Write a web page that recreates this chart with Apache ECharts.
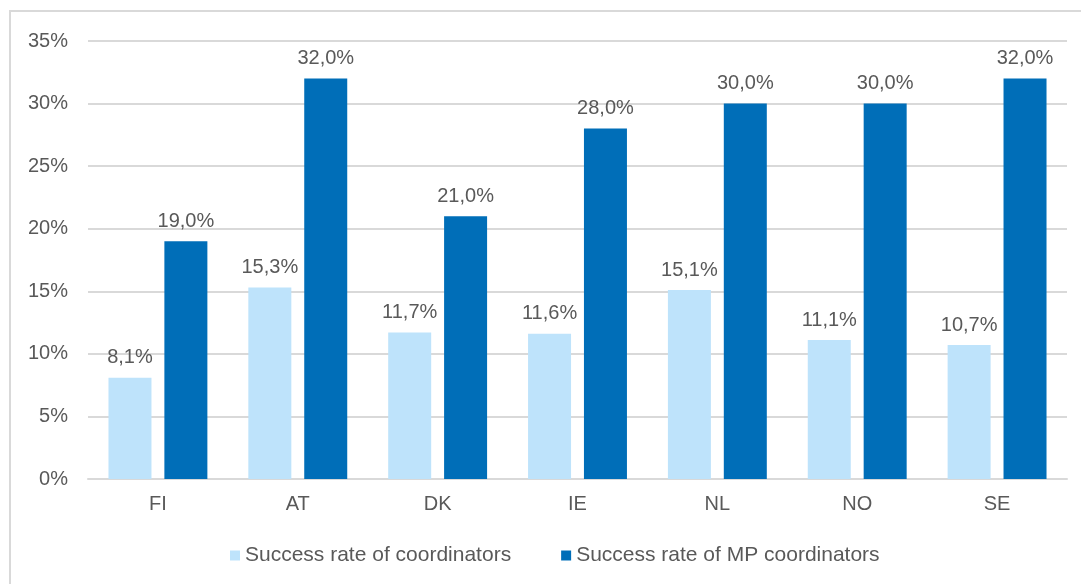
<!DOCTYPE html>
<html>
<head>
<meta charset="utf-8">
<script src="https://cdn.jsdelivr.net/npm/echarts@6/dist/echarts.min.js"></script>
<style>
html,body{margin:0;padding:0;background:#fff;}
#c{width:1081px;height:584px;}
</style>
</head>
<body>
<div id="c"></div>
<script>
const categories = ['FI','AT','DK','IE','NL','NO','SE'];
const coordinators = [8.1,15.3,11.7,11.6,15.1,11.1,10.7];
const mpCoordinators = [19.0,32.0,21.0,28.0,30.0,30.0,32.0];
const seriesNames = ['Success rate of coordinators','Success rate of MP coordinators'];
const yTicks = [0,5,10,15,20,25,30,35];

const font = 'Liberation Sans, Arial, sans-serif';
const txt = '#595959';
const fmt = v => v.toFixed(1).replace('.', ',') + '%';

const chart = echarts.init(document.getElementById('c'));
chart.setOption({
  animation:false,
  textStyle:{fontFamily:font},
  graphic:[{type:'rect',shape:{x:10,y:11,width:1100,height:600},style:{fill:'none',stroke:'#d9d9d9',lineWidth:2},silent:true}],
  grid:{left:88,right:14,top:41,bottom:105},
  legend:{
    data:seriesNames,
    top:540,
    left:225,
    itemWidth:10,itemHeight:10,itemGap:50,
    icon:'rect',
    textStyle:{color:txt,fontSize:21,fontFamily:font}
  },
  xAxis:{
    type:'category',data:categories,
    axisLine:{show:true,lineStyle:{color:'#d9d9d9',width:2}},
    axisTick:{show:false},
    axisLabel:{color:txt,fontSize:20,margin:15,fontFamily:font}
  },
  yAxis:{
    type:'value',min:yTicks[0],max:yTicks[yTicks.length-1],interval:5,
    axisLine:{show:false},axisTick:{show:false},
    splitLine:{lineStyle:{color:'#d9d9d9',width:2}},
    axisLabel:{color:txt,fontSize:20,margin:20,formatter:v=>v+'%',fontFamily:font}
  },
  series:[
    {name:seriesNames[0],type:'bar',data:coordinators,barWidth:43,barGap:'30%',
     itemStyle:{color:'#bee3fb'},
     label:{show:true,position:'top',distance:10,color:txt,fontSize:20,fontFamily:font,formatter:p=>fmt(p.value)}},
    {name:seriesNames[1],type:'bar',data:mpCoordinators,barWidth:43,
     itemStyle:{color:'#006eb8'},
     label:{show:true,position:'top',distance:10,color:txt,fontSize:20,fontFamily:font,formatter:p=>fmt(p.value)}}
  ]
});
</script>
</body>
</html>
